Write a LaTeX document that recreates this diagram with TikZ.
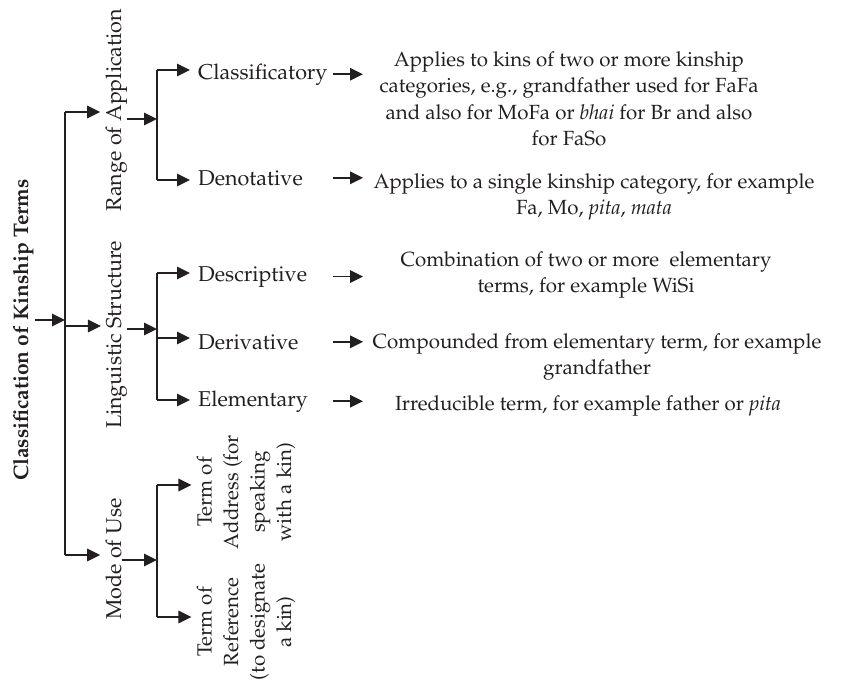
\documentclass[tikz,border=0pt]{standalone}
\usepackage[T1]{fontenc}
\usepackage{mathpazo}
\usetikzlibrary{arrows.meta}
\definecolor{ink}{RGB}{35,31,32}
\tikzset{
  txt/.style={font=\fontsize{21.5}{26.5}\selectfont, inner sep=0pt, text=ink},
  vtxt/.style={txt, rotate=90, align=center},
  termtxt/.style={vtxt, font=\fontsize{20.5}{26.5}\selectfont},
  desc/.style={txt, align=center, font=\fontsize{20.5}{26.5}\selectfont},
  ln/.style={line width=1.6pt, draw=ink},
  arr/.style={ln, -{Triangle[length=13pt,width=12.5pt]}},
}
\begin{document}
\begin{tikzpicture}[x=1pt,y=-1pt]
\useasboundingbox (0,0) rectangle (845,685);
% root
\node[vtxt, font=\fontsize{21}{26}\selectfont\bfseries, anchor=base] (root) at (28,330) {Classification of Kinship Terms};
% level 1
\node[vtxt, anchor=base] (range) at (121,110) {Range of Application};
\node[vtxt, anchor=base] (ling) at (121,335) {Linguistic Structure};
\node[vtxt, anchor=base] (mode) at (121,559) {Mode of Use};
% main trunk
\coordinate (r0) at (35,320);
\coordinate (j0) at (65,320);
\coordinate (t0a) at (65,112);
\coordinate (t0b) at (65,326);
\coordinate (t0c) at (65,555);
\draw[arr] (r0) -- (j0);
\draw[ln] (t0a) -- (t0c);
\draw[arr, shorten >=5pt] (t0a) -- (range.north |- t0a);
\draw[arr, shorten >=5pt] (t0b) -- (ling.north |- t0b);
\draw[arr, shorten >=5pt] (t0c) -- (mode.north |- t0c);
% sub trunks
\coordinate (j1) at (157,119);
\coordinate (t1a) at (157,70);
\coordinate (t1b) at (157,180);
\coordinate (j2) at (157,329);
\coordinate (t2a) at (157,273);
\coordinate (t2b) at (157,338);
\coordinate (t2c) at (157,400);
\coordinate (j3) at (157,560);
\coordinate (t3a) at (157,485);
\coordinate (t3b) at (157,617);
\draw[arr] (range.south |- j1) -- (j1);
\draw[arr] (ling.south |- j2) -- (j2);
\draw[arr] (mode.south |- j3) -- (j3);
\draw[ln] (t1a) -- (t1b);
\draw[ln] (t2a) -- (t2c);
\draw[ln] (t3a) -- (t3b);
% level 2 labels
\node[txt, anchor=base west] (clas) at (198,79) {Classificatory};
\node[txt, anchor=base west] (deno) at (198,185) {Denotative};
\node[txt, anchor=base west] (descr) at (198,281) {Descriptive};
\node[txt, anchor=base west] (deri) at (198,349) {Derivative};
\node[txt, anchor=base west] (elem) at (198,406) {Elementary};
\node[termtxt] (addr) at (246,492) {Term of\\Address (for\\speaking\\with a kin)};
\node[termtxt] (refr) at (246,622) {Term of\\Reference\\(to designate\\a kin)};
\draw[arr, shorten >=8pt] (t1a) -- (clas.west |- t1a);
\draw[arr, shorten >=8pt] (t1b) -- (deno.west |- t1b);
\draw[arr, shorten >=8pt] (t2a) -- (descr.west |- t2a);
\draw[arr, shorten >=8pt] (t2b) -- (deri.west |- t2b);
\draw[arr, shorten >=8pt] (t2c) -- (elem.west |- t2c);
\draw[arr, shorten >=5pt] (t3a) -- (addr.north |- t3a);
\draw[arr, shorten >=5pt] (t3b) -- (refr.north |- t3b);
% descriptions
\coordinate (xs) at (333,0);
\coordinate (xe) at (363,0);
\node[desc] (dclas) at (569,99) {Applies to kins of two or more kinship\\categories, e.g., grandfather used for FaFa\\and also for MoFa or \textit{bhai} for Br and also\\for FaSo};
\node[desc] (ddeno) at (594,197) {Applies to a single kinship category, for example\\Fa, Mo, \textit{pita}, \textit{mata}};
\node[desc] (ddescr) at (586,275) {Combination of two or more\ \ elementary\\terms, for example WiSi};
\node[desc] (dderi) at (597,357) {Compounded from elementary term, for example\\grandfather};
\node[desc, anchor=base] (delem) at (588,410) {Irreducible term, for example father or \textit{pita}};
\draw[arr] (clas.east -| xs) -- (clas.east -| xe);
\draw[arr] (deno.east -| xs) -- (deno.east -| xe);
\draw[arr] (descr.east -| xs) -- (descr.east -| xe);
\draw[arr] (deri.east -| xs) -- (deri.east -| xe);
\draw[arr] (elem.east -| xs) -- (elem.east -| xe);
\end{tikzpicture}
\end{document}
